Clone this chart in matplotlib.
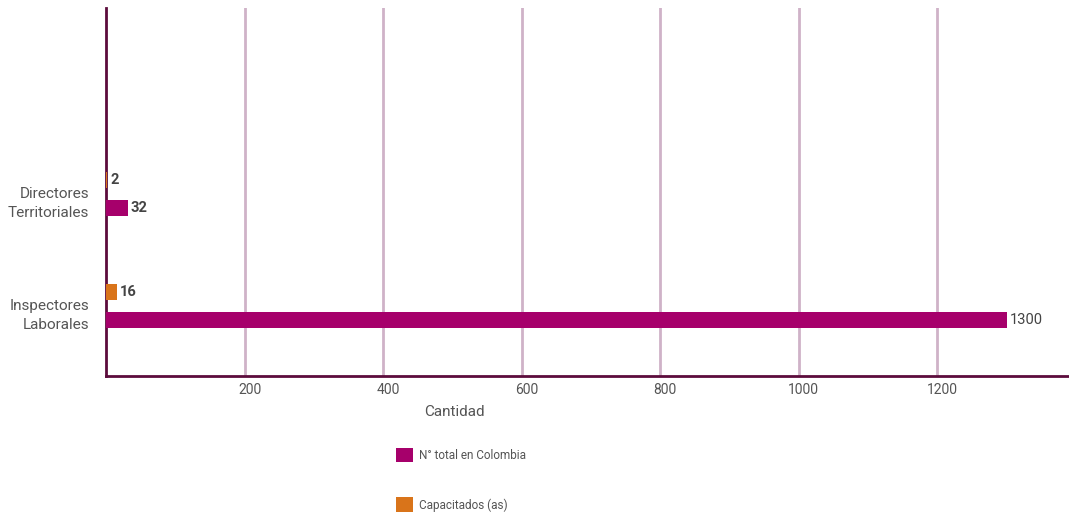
import matplotlib.pyplot as plt
import matplotlib.transforms as mtransforms
import numpy as np

plt.rcParams["font.family"] = ["Roboto", "DejaVu Sans"]

categories = ["Inspectores\nLaborales", "Directores\nTerritoriales"]
total_colombia = [1300, 32]
capacitados = [16, 2]
xticks = [200, 400, 600, 800, 1000, 1200]

magenta = "#a6006b"
orange = "#d9741a"
spine = "#5c0c3c"
grid = "#cfb2c8"
text_gray = "#555555"

fig = plt.figure(figsize=(10.69, 5.12), dpi=100)
ax = fig.add_axes([106 / 1069, 1 - 376 / 512, 1 - 106 / 1069, 368 / 512])

y = np.arange(len(categories))
off = 0.125
h = 0.14
b_total = ax.barh(y - off, total_colombia, height=h, color=magenta, zorder=3,
                  label="N° total en Colombia")
b_cap = ax.barh(y + off, capacitados, height=h, color=orange, zorder=3,
                label="Capacitados (as)")

for bars, vals in ((b_total, total_colombia), (b_cap, capacitados)):
    for rect, v in zip(bars, vals):
        ax.text(rect.get_width() + 4, rect.get_y() + rect.get_height() / 2, str(v),
                va="center", ha="left", fontsize=10.5, color="#444444",
                fontweight="bold" if v < 1000 else "normal", zorder=4)

ax.set_xlim(0, 1390)
ax.set_ylim(-0.625, 2.66)
ax.set_yticks(y)
ax.set_yticklabels(categories, fontsize=11, color=text_gray, linespacing=1.45)
ax.set_xticks(xticks)
ax.set_xticklabels([str(t) for t in xticks], fontsize=10, color=text_gray)
ax.tick_params(axis="both", length=0)
ax.tick_params(axis="x", pad=5)
ax.tick_params(axis="y", pad=12)

shift_y = mtransforms.ScaledTranslation(0, -6 / 100, fig.dpi_scale_trans)
for lbl in ax.get_yticklabels():
    lbl.set_transform(lbl.get_transform() + shift_y)
shift_x = mtransforms.ScaledTranslation(5 / 100, 0, fig.dpi_scale_trans)
for lbl in ax.get_xticklabels():
    lbl.set_transform(lbl.get_transform() + shift_x)

ax.grid(axis="x", color=grid, linewidth=2, zorder=1)
ax.grid(axis="y", visible=False)
ax.set_axisbelow(True)
for s in ("top", "right"):
    ax.spines[s].set_visible(False)
for s in ("left", "bottom"):
    ax.spines[s].set_color(spine)
    ax.spines[s].set_linewidth(2)

fig.text(454 / 1069, 1 - 412 / 512, "Cantidad", ha="center", va="center",
         fontsize=11, color=text_gray)

fig.legend(handles=[b_total, b_cap], loc="upper left",
           bbox_to_anchor=(385 / 1069, 1 - 437 / 512), frameon=False,
           fontsize=8.5, handlelength=1.5, handleheight=1.5, labelspacing=3.0,
           handletextpad=0.5, labelcolor=text_gray)

fig.savefig("out.png", dpi=100)
